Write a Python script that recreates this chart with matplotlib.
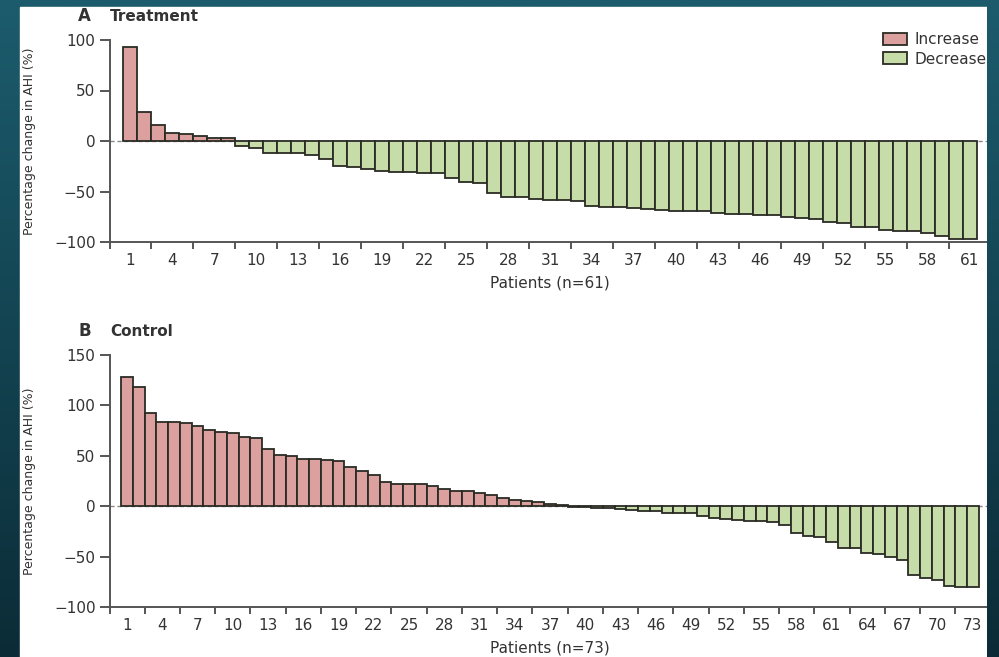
import matplotlib
matplotlib.use("Agg")
import matplotlib.pyplot as plt
import numpy as np
from matplotlib.patches import Patch, Rectangle

# percentage change in AHI per patient, sorted high to low
treatment = [93, 29, 16, 8, 6.5, 5, 3, 3, -5, -6.5,
             -12, -12, -12, -14, -18, -25, -25.5, -28, -30, -30.5,
             -31, -31.5, -32, -37, -41, -41.5, -51.5, -55, -55.5, -57,
             -58, -58, -59, -64, -65, -65.5, -66, -67.5, -68.5, -69,
             -69, -69.5, -71, -72, -72.5, -73, -73.5, -75, -76.5, -77.5,
             -80.5, -81, -85, -85.5, -88.5, -89, -89.5, -91, -94, -97,
             -97]
control = [128, 118, 92, 84, 84, 83, 80, 76, 74, 72.5,
           69, 68, 57, 51, 50, 47, 47, 46, 44.5, 39,
           35, 31, 24, 22.5, 22, 22, 20, 17, 15.5, 15,
           13, 11, 8.5, 6, 5, 4, 2, 1, -0.5, -1,
           -2, -2, -2.5, -4, -4.5, -4.5, -6.5, -7, -7, -10,
           -11.5, -13, -14, -14.5, -15, -15.5, -18.5, -27, -30, -31,
           -36, -41, -41, -46, -47, -50.5, -53, -68.5, -71, -73.5,
           -79, -80, -80]

panels = [
    ("A", "Treatment", treatment, (-100, 100), [-100, -50, 0, 50, 100]),
    ("B", "Control", control, (-100, 150), [-100, -50, 0, 50, 100, 150]),
]

RED = "#dca09e"
GREEN = "#c6dda9"
EDGE = "#2b2b25"
AXIS = "#555555"

W, H = 999, 657
fig = plt.figure(figsize=(W / 100, H / 100), dpi=100)

# dark teal backdrop with a white sheet on top
grad = np.linspace(0, 1, 256).reshape(-1, 1)
teal = matplotlib.colors.LinearSegmentedColormap.from_list("teal", ["#1c5c6d", "#0b2c37"])
bg = fig.add_axes([0, 0, 1, 1])
bg.imshow(grad, aspect="auto", cmap=teal, extent=[0, 1, 0, 1])
bg.add_patch(Rectangle((20 / W, 0), (987 - 20) / W, 1 - 7 / H, color="white"))
bg.set_xlim(0, 1)
bg.set_ylim(0, 1)
bg.axis("off")
bg.set_zorder(-1)

boxes = [(40, 242), (355, 607)]
title_y = [21, 336]

for (letter, name, vals, ylim, yticks), (ytop, ybot), ty in zip(panels, boxes, title_y):
    ax = fig.add_axes([109.5 / W, 1 - ybot / H, 881 / W, (ybot - ytop) / H])
    ax.patch.set_alpha(0)
    n = len(vals)
    x = np.arange(1, n + 1)
    vals = np.array(vals)
    colors = [RED if v > 0 else GREEN for v in vals]
    ax.axhline(0, color="#8a8a8a", lw=1, ls=(0, (3, 2)), zorder=1)
    ax.bar(x, vals, width=1.0, color=colors, edgecolor=EDGE, linewidth=1.3, zorder=2)

    ax.set_xlim(-0.5, n + 1.5)
    ax.set_ylim(*ylim)
    ax.set_yticks(yticks)
    ax.set_xticks(np.arange(1, n + 1, 3))
    ax.set_xticks(np.arange(-0.5, n + 2, 3), minor=True)
    ax.tick_params(axis="x", which="major", length=0, pad=8, labelsize=11, labelcolor="#333333")
    ax.tick_params(axis="x", which="minor", length=5, width=1.4, color=AXIS)
    ax.tick_params(axis="y", length=7, width=1.4, color=AXIS, pad=3, labelsize=11, labelcolor="#333333")
    for side in ("top", "right"):
        ax.spines[side].set_visible(False)
    for side in ("left", "bottom"):
        ax.spines[side].set_color(AXIS)
        ax.spines[side].set_linewidth(1.4)

    ax.set_xlabel(f"Patients (n={n})", fontsize=11, color="#333333", labelpad=5)
    fig.text(30 / W, 1 - (ytop + ybot) / 2 / H, "Percentage change in AHI (%)",
             rotation=90, ha="center", va="center", fontsize=9, color="#333333")
    fig.text(78 / W, 1 - ty / H, letter, fontsize=12, fontweight="bold", color="#333333", va="baseline")
    fig.text(110 / W, 1 - ty / H, name, fontsize=11, fontweight="bold", color="#333333", va="baseline")

    if letter == "A":
        handles = [Patch(facecolor=RED, edgecolor=EDGE, linewidth=1.3, label="Increase"),
                   Patch(facecolor=GREEN, edgecolor=EDGE, linewidth=1.3, label="Decrease")]
        ax.legend(handles=handles, loc="upper left", bbox_to_anchor=(883 / W, 1 - 32 / H),
                  bbox_transform=fig.transFigure, frameon=False, fontsize=11,
                  handlelength=1.55, handleheight=0.8, handletextpad=0.5,
                  labelspacing=0.3, borderpad=0, borderaxespad=0, labelcolor="#333333")

# right-hand strip of backdrop trims the chart edge
strip = fig.add_axes([987 / W, 0, 1 - 987 / W, 1])
strip.imshow(grad, aspect="auto", cmap=teal, extent=[0, 1, 0, 1])
strip.axis("off")
strip.set_zorder(10)

fig.savefig("out.png", dpi=100)
